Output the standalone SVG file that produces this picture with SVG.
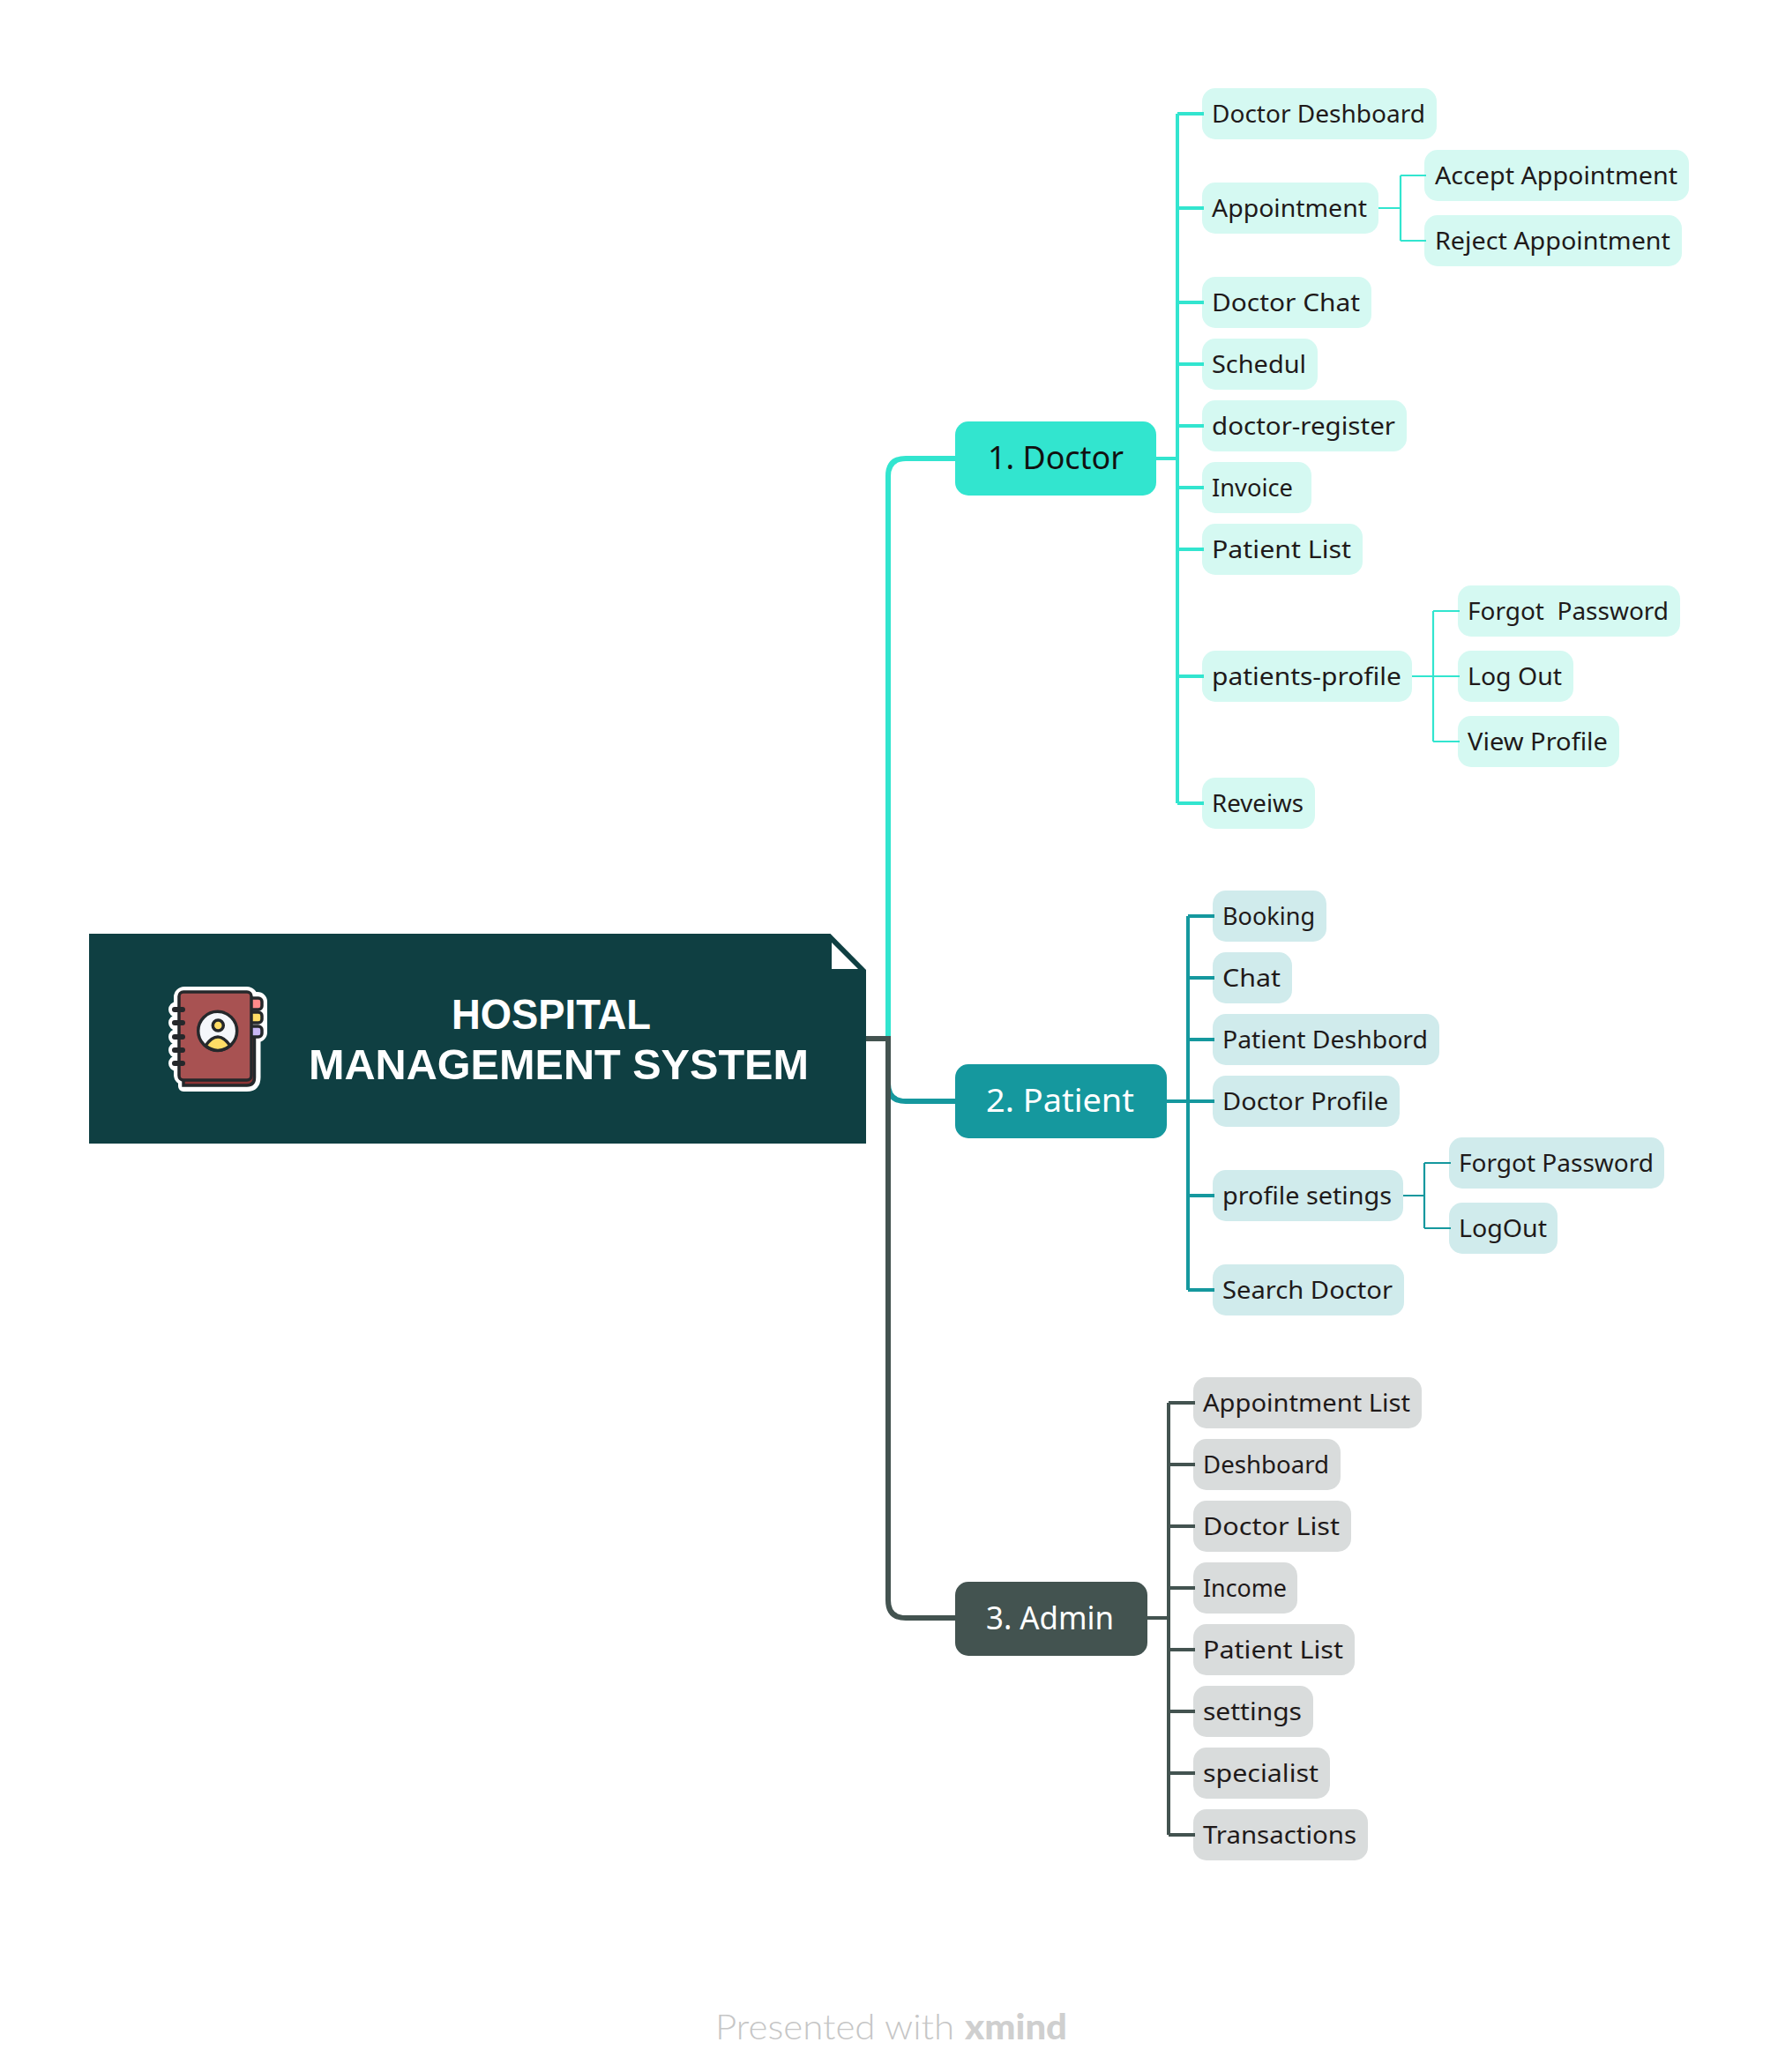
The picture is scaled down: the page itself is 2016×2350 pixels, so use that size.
<svg xmlns="http://www.w3.org/2000/svg" width="2016" height="2350" viewBox="0 0 2016 2350">
<style>
text{font-family:"Noto Sans","Open Sans",sans-serif;white-space:pre}
.t{font-size:28px;fill:#1f1a1a}
.m{font-size:36px}
.r{font-family:"Liberation Sans",Arial,sans-serif;font-size:48px;font-weight:700;fill:#fff}
.w{fill:#fff}
.d{fill:#d5f9f2}.p{fill:#d0ebec}.a{fill:#d9dcdc}
.c{fill:none;stroke-linejoin:miter}
.cd{stroke:#32e5cf}.cp{stroke:#15989e}.ca{stroke:#435350}
.l1{stroke-width:6}.l2{stroke-width:4}.l3{stroke-width:2.200}
.ink{stroke:#25282b;stroke-width:3.500}
</style>
<defs>
<g id="sil">
<path d="M208 1226V1232H280Q289.500 1232 289.500 1222V1170H208Z"/>
<rect x="203" y="1125" width="83" height="100" rx="6"/>
<rect x="280" y="1131" width="17" height="45" rx="5"/>
<rect x="197" y="1142" width="20" height="6" rx="3"/>
<rect x="197" y="1157" width="20" height="6" rx="3"/>
<rect x="197" y="1173" width="20" height="6" rx="3"/>
<rect x="197" y="1188" width="20" height="6" rx="3"/>
<rect x="197" y="1203" width="20" height="6" rx="3"/>
</g>
</defs>
<rect width="2016" height="2350" fill="#fff"/>
<g id="root">
<path d="M101 1059H941.500L982 1100V1297H101Z" fill="#0f3f42"/>
<path d="M943 1069L973 1099H943Z" fill="#fff"/>
<g id="icon">
<use href="#sil" fill="#fff" stroke="#fff" stroke-width="12" stroke-linejoin="round"/>
<path class="ink" d="M208 1226V1231H280Q288.500 1231 288.500 1222V1170" fill="#8f3535"/>
<rect class="ink" x="282" y="1132" width="15" height="13" rx="4" fill="#ff8a8a"/>
<rect class="ink" x="282" y="1148" width="15" height="12" rx="4" fill="#ffdd66"/>
<rect class="ink" x="282" y="1164" width="15" height="12" rx="4" fill="#c9b8f5"/>
<rect class="ink" x="203" y="1125" width="82" height="100" rx="5" fill="#a85252"/>
<rect x="195" y="1142" width="15" height="6" rx="3" fill="#25282b"/>
<rect x="195" y="1157" width="15" height="6" rx="3" fill="#25282b"/>
<rect x="195" y="1173" width="15" height="6" rx="3" fill="#25282b"/>
<rect x="195" y="1188" width="15" height="6" rx="3" fill="#25282b"/>
<rect x="195" y="1203" width="15" height="6" rx="3" fill="#25282b"/>
<circle class="ink" cx="246.700" cy="1169.300" r="22" fill="#f5f7fb"/>
<circle class="ink" cx="247.300" cy="1163" r="6" fill="#ffdd66"/>
<path class="ink" d="M233 1186Q247 1166 261 1186Q247 1197 233 1186Z" fill="#ffdd66"/>
</g>
<text class="r" x="512" y="1167" textLength="226" lengthAdjust="spacingAndGlyphs">HOSPITAL</text>
<text class="r" x="350" y="1224" textLength="567" lengthAdjust="spacingAndGlyphs">MANAGEMENT SYSTEM</text>
</g>
<g id="n-doctor"><rect x="1083" y="478" width="228" height="84" rx="15" fill="#32e5cf"/><text class="m" x="1120" y="532" textLength="154" lengthAdjust="spacingAndGlyphs" fill="#111">1. Doctor</text></g>
<g id="n-patient"><rect x="1083" y="1207" width="240" height="84" rx="15" fill="#15989e"/><text class="m w" x="1118" y="1261" textLength="168" lengthAdjust="spacingAndGlyphs">2. Patient</text></g>
<g id="n-admin"><rect x="1083" y="1794" width="218" height="84" rx="15" fill="#435350"/><text class="m w" x="1118" y="1848" textLength="145" lengthAdjust="spacingAndGlyphs">3. Admin</text></g>
<g id="d1"><rect class="d" x="1363" y="100" width="266" height="58" rx="15"/><text class="t" x="1374" y="139" textLength="242" lengthAdjust="spacingAndGlyphs">Doctor Deshboard</text></g>
<g id="d2"><rect class="d" x="1363" y="207" width="200" height="58" rx="15"/><text class="t" x="1374" y="246" textLength="176" lengthAdjust="spacingAndGlyphs">Appointment</text></g>
<g id="d2a"><rect class="d" x="1615" y="170" width="300" height="58" rx="15"/><text class="t" x="1627" y="209" textLength="275" lengthAdjust="spacingAndGlyphs">Accept Appointment</text></g>
<g id="d2b"><rect class="d" x="1615" y="244" width="292" height="58" rx="15"/><text class="t" x="1627" y="283" textLength="267" lengthAdjust="spacingAndGlyphs">Reject Appointment</text></g>
<g id="d3"><rect class="d" x="1363" y="314" width="192" height="58" rx="15"/><text class="t" x="1374" y="353" textLength="168" lengthAdjust="spacingAndGlyphs">Doctor Chat</text></g>
<g id="d4"><rect class="d" x="1363" y="384" width="131" height="58" rx="15"/><text class="t" x="1374" y="423" textLength="107" lengthAdjust="spacingAndGlyphs">Schedul</text></g>
<g id="d5"><rect class="d" x="1363" y="454" width="232" height="58" rx="15"/><text class="t" x="1374" y="493" textLength="208" lengthAdjust="spacingAndGlyphs">doctor-register</text></g>
<g id="d6"><rect class="d" x="1363" y="524" width="124" height="58" rx="15"/><text class="t" x="1374" y="563" textLength="92" lengthAdjust="spacingAndGlyphs">Invoice</text></g>
<g id="d7"><rect class="d" x="1363" y="594" width="182" height="58" rx="15"/><text class="t" x="1374" y="633" textLength="158" lengthAdjust="spacingAndGlyphs">Patient List</text></g>
<g id="d8"><rect class="d" x="1363" y="738" width="238" height="58" rx="15"/><text class="t" x="1374" y="777" textLength="215" lengthAdjust="spacingAndGlyphs">patients-profile</text></g>
<g id="d8a"><rect class="d" x="1653" y="664" width="252" height="58" rx="15"/><text class="t" x="1664" y="703" textLength="228" lengthAdjust="spacingAndGlyphs">Forgot  Password</text></g>
<g id="d8b"><rect class="d" x="1653" y="738" width="131" height="58" rx="15"/><text class="t" x="1664" y="777" textLength="107" lengthAdjust="spacingAndGlyphs">Log Out</text></g>
<g id="d8c"><rect class="d" x="1653" y="812" width="183" height="58" rx="15"/><text class="t" x="1664" y="851" textLength="159" lengthAdjust="spacingAndGlyphs">View Profile</text></g>
<g id="d9"><rect class="d" x="1363" y="882" width="128" height="58" rx="15"/><text class="t" x="1374" y="921" textLength="104" lengthAdjust="spacingAndGlyphs">Reveiws</text></g>
<g id="p1"><rect class="p" x="1375" y="1010" width="129" height="58" rx="15"/><text class="t" x="1386" y="1049" textLength="105" lengthAdjust="spacingAndGlyphs">Booking</text></g>
<g id="p2"><rect class="p" x="1375" y="1080" width="90" height="58" rx="15"/><text class="t" x="1386" y="1119" textLength="66" lengthAdjust="spacingAndGlyphs">Chat</text></g>
<g id="p3"><rect class="p" x="1375" y="1150" width="257" height="58" rx="15"/><text class="t" x="1386" y="1189" textLength="233" lengthAdjust="spacingAndGlyphs">Patient Deshbord</text></g>
<g id="p4"><rect class="p" x="1375" y="1220" width="212" height="58" rx="15"/><text class="t" x="1386" y="1259" textLength="188" lengthAdjust="spacingAndGlyphs">Doctor Profile</text></g>
<g id="p5"><rect class="p" x="1375" y="1327" width="216" height="58" rx="15"/><text class="t" x="1386" y="1366" textLength="192" lengthAdjust="spacingAndGlyphs">profile setings</text></g>
<g id="p5a"><rect class="p" x="1643" y="1290" width="244" height="58" rx="15"/><text class="t" x="1654" y="1329" textLength="221" lengthAdjust="spacingAndGlyphs">Forgot Password</text></g>
<g id="p5b"><rect class="p" x="1643" y="1364" width="123" height="58" rx="15"/><text class="t" x="1654" y="1403" textLength="100" lengthAdjust="spacingAndGlyphs">LogOut</text></g>
<g id="p6"><rect class="p" x="1375" y="1434" width="217" height="58" rx="15"/><text class="t" x="1386" y="1473" textLength="193" lengthAdjust="spacingAndGlyphs">Search Doctor</text></g>
<g id="a1"><rect class="a" x="1353" y="1562" width="259" height="58" rx="15"/><text class="t" x="1364" y="1601" textLength="235" lengthAdjust="spacingAndGlyphs">Appointment List</text></g>
<g id="a2"><rect class="a" x="1353" y="1632" width="167" height="58" rx="15"/><text class="t" x="1364" y="1671" textLength="143" lengthAdjust="spacingAndGlyphs">Deshboard</text></g>
<g id="a3"><rect class="a" x="1353" y="1702" width="179" height="58" rx="15"/><text class="t" x="1364" y="1741" textLength="155" lengthAdjust="spacingAndGlyphs">Doctor List</text></g>
<g id="a4"><rect class="a" x="1353" y="1772" width="118" height="58" rx="15"/><text class="t" x="1364" y="1811" textLength="95" lengthAdjust="spacingAndGlyphs">Income</text></g>
<g id="a5"><rect class="a" x="1353" y="1842" width="183" height="58" rx="15"/><text class="t" x="1364" y="1881" textLength="159" lengthAdjust="spacingAndGlyphs">Patient List</text></g>
<g id="a6"><rect class="a" x="1353" y="1912" width="136" height="58" rx="15"/><text class="t" x="1364" y="1951" textLength="112" lengthAdjust="spacingAndGlyphs">settings</text></g>
<g id="a7"><rect class="a" x="1353" y="1982" width="155" height="58" rx="15"/><text class="t" x="1364" y="2021" textLength="131" lengthAdjust="spacingAndGlyphs">specialist</text></g>
<g id="a8"><rect class="a" x="1353" y="2052" width="198" height="58" rx="15"/><text class="t" x="1364" y="2091" textLength="174" lengthAdjust="spacingAndGlyphs">Transactions</text></g>
<g id="connectors">
<path class="c cd l1" d="M1007 1175V540Q1007 520 1027 520H1084"/>
<path class="c cp l1" d="M1007 1178V1229Q1007 1249 1027 1249H1084"/>
<path class="c ca l1" d="M982 1178H1007V1815Q1007 1835 1027 1835H1084"/>
<path class="c cd l2" d="M1310 520H1335M1335 129V911M1335 129H1365M1335 236H1365M1335 343H1365M1335 413H1365M1335 483H1365M1335 553H1365M1335 623H1365M1335 767H1365M1335 911H1365"/>
<path class="c cd l3" d="M1563 236H1588M1588 199V273M1588 199H1617M1588 273H1617"/>
<path class="c cd l3" d="M1601 767H1655M1625 693V841M1625 693H1655M1625 841H1655"/>
<path class="c cp l2" d="M1322 1249H1347M1347 1039V1463M1347 1039H1377M1347 1109H1377M1347 1179H1377M1347 1249H1377M1347 1356H1377M1347 1463H1377"/>
<path class="c cp l3" d="M1591 1356H1615M1615 1319V1393M1615 1319H1645M1615 1393H1645"/>
<path class="c ca l2" d="M1300 1835H1325M1325 1591V2081M1325 1591H1355M1325 1661H1355M1325 1731H1355M1325 1801H1355M1325 1871H1355M1325 1941H1355M1325 2011H1355M1325 2081H1355"/>
</g>
<g id="footer">
<text x="811" y="2313" font-size="39" font-weight="300" fill="#c6c6c6" style="font-family:Lato,'Open Sans',sans-serif" textLength="271" lengthAdjust="spacingAndGlyphs">Presented with</text>
<text x="1094" y="2313" font-size="39" font-weight="900" fill="#cfcfcf" style="font-family:Lato,'Open Sans',sans-serif" textLength="116" lengthAdjust="spacingAndGlyphs">xmind</text>
</g>
</svg>
